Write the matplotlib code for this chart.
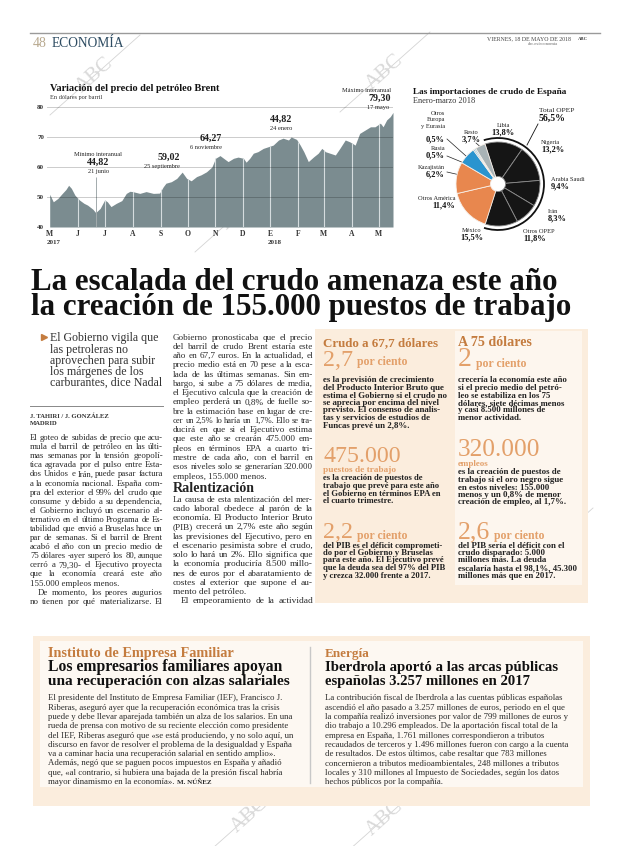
import numpy as np
import matplotlib
matplotlib.use('Agg')
import matplotlib.pyplot as plt
import matplotlib.transforms as mtransforms
from matplotlib.font_manager import FontProperties
from matplotlib.patches import Rectangle, Arc
import pandas as pd

W, H = 620, 846
SERIF = 'Liberation Serif'

# ---- datos del gráfico del Brent (dólares por barril) ----
fechas = ['2017-05-01', '2017-05-05', '2017-05-10', '2017-05-15', '2017-05-19', '2017-05-22',
          '2017-05-25', '2017-05-29', '2017-06-03', '2017-06-08', '2017-06-12', '2017-06-18',
          '2017-06-21', '2017-06-26', '2017-07-01', '2017-07-04', '2017-07-08', '2017-07-14',
          '2017-07-20', '2017-07-25', '2017-07-29', '2017-08-01', '2017-08-09', '2017-08-16',
          '2017-08-24', '2017-08-31', '2017-09-04', '2017-09-07', '2017-09-13', '2017-09-19',
          '2017-09-25', '2017-09-30', '2017-10-05', '2017-10-11', '2017-10-16', '2017-10-22',
          '2017-10-28', '2017-11-01', '2017-11-06', '2017-11-10', '2017-11-15', '2017-11-21',
          '2017-11-26', '2017-12-02', '2017-12-05', '2017-12-09', '2017-12-13', '2017-12-18',
          '2017-12-24', '2017-12-30', '2018-01-04', '2018-01-10', '2018-01-15', '2018-01-21',
          '2018-01-24', '2018-01-30', '2018-02-03', '2018-02-07', '2018-02-12', '2018-02-18',
          '2018-02-23', '2018-02-27', '2018-03-03', '2018-03-08', '2018-03-14', '2018-03-19',
          '2018-03-25', '2018-03-30', '2018-04-05', '2018-04-10', '2018-04-16', '2018-04-22',
          '2018-04-27', '2018-05-03', '2018-05-06', '2018-05-10', '2018-05-14', '2018-05-17']
brent = [50.9, 48.4, 49.5, 51.2, 52.5, 53.9, 52.9, 50.6, 49.0, 47.9, 47.3, 45.9,
         44.8, 46.2, 49.0, 48.4, 46.8, 47.9, 48.8, 51.2, 51.9, 51.8, 51.2, 51.8,
         51.2, 51.3, 53.4, 54.6, 55.1, 56.2, 58.3, 56.2, 55.4, 56.8, 57.4, 58.4,
         60.0, 62.9, 63.8, 62.9, 61.8, 62.9, 63.3, 62.9, 61.6, 62.9, 64.6, 65.1,
         66.2, 66.8, 67.3, 69.0, 69.6, 69.0, 70.0, 69.2, 67.3, 65.1, 61.8, 63.4,
         64.6, 66.2, 65.1, 64.6, 64.0, 66.2, 69.0, 68.4, 67.3, 71.2, 72.3, 73.4,
         73.4, 74.6, 73.4, 75.7, 76.8, 78.2]
meses = ['M', 'J', 'J', 'A', 'S', 'O', 'N', 'D', 'E', 'F', 'M', 'A', 'M']

# ---- datos del gráfico de importaciones ----
paises = ['Libia', 'Nigeria', 'Arabia Saudi', 'Irán', 'Otros OPEP', 'México',
          'Otros América', 'Kazajistán', 'Rusia', 'Otros Europa y Eurasia', 'Resto']
cuotas = [13.8, 13.2, 9.4, 8.3, 11.8, 15.5, 11.4, 6.2, 0.5, 0.5, 3.7]
colores = ['#151515'] * 5 + ['#e8874e', '#e8874e', '#2a94cf', '#45a4d8', '#62b4de', '#a9b3b6']

ORANGE = '#c47c3f'
LIGHT_OR = '#e3a06a'

fig = plt.figure(figsize=(6.2, 8.46), dpi=100)
page = fig.add_axes([0, 0, 1, 1])
page.set_xlim(0, W)
page.set_ylim(H, 0)
page.axis('off')
renderer = fig.canvas.get_renderer()


def fprop(size, weight='normal', family=SERIF):
    return FontProperties(family=family, size=size, weight=weight)


def tw(s, fp):
    return renderer.get_text_width_height_descent(s, fp, ismath=False)[0]


def fit(s, x, y, w, weight='bold', color='#111', ha='left', family=SERIF):
    size = 10 * w / tw(s, fprop(10, weight, family))
    page.text(x, y, s, fontproperties=fprop(size, weight, family), color=color,
              ha=ha, va='baseline')
    return size


def columna(lines, x0, x1, y0, dy, weight='normal', color='#2a2a2a', justify=True, indent=8):
    target = x1 - x0
    fp10 = fprop(10, weight)
    nat = [tw(l.strip('>|'), fp10) + (indent if l.startswith('>') else 0) for l in lines]
    if justify:
        size = 10 * target / np.percentile(nat, 70)
    else:
        size = 10 * target / max(nat)
    for i, l in enumerate(lines):
        y = y0 + i * dy
        x = x0 + (indent if l.startswith('>') else 0)
        txt = l.strip('>|')
        words = txt.split(' ')
        sz = size
        if nat[i] * size / 10 > target:
            sz = size * target / (nat[i] * size / 10)
        fp = fprop(sz, weight)
        if not justify or l.endswith('|') or len(words) == 1:
            page.text(x, y, txt, fontproperties=fp, color=color, va='baseline')
            continue
        ws = [tw(w, fp) for w in words]
        gap = (x1 - x - sum(ws)) / (len(words) - 1)
        for w, wd in zip(words, ws):
            page.text(x, y, w, fontproperties=fp, color=color, va='baseline')
            x += wd + gap
    return size


def px_axes(x0, y0, x1, y1):
    return fig.add_axes([x0 / W, 1 - y1 / H, (x1 - x0) / W, (y1 - y0) / H])


# ---- fondos ----
page.add_patch(Rectangle((315, 329), 273, 274, color='#fbeddd', lw=0))
page.add_patch(Rectangle((455, 331), 127, 254, color='#fdf6ee', lw=0))
page.add_patch(Rectangle((33, 636), 557, 170, color='#fbeddd', lw=0))
page.add_patch(Rectangle((40, 641), 543, 146, color='#fdf8f2', lw=0))
page.plot([310, 310], [647, 783], color='#c8c8c8', lw=1)

# ---- cabecera ----
page.plot([30, 600], [33, 33], color='#9a9a9a', lw=1)
page.text(33, 47, '48', fontproperties=fprop(10), color='#b8a98f', va='baseline')
fit('ECONOMÍA', 52, 47, 73, weight='normal', color='#2f4d63')
fit('VIERNES, 18 DE MAYO DE 2018', 487, 40, 84, weight='normal', color='#444')
fit('ABC', 578, 40, 10, weight='bold', color='#444')
fit('abc.es/economia', 528, 45, 30, weight='normal', color='#666')

# ---- gráfico Brent ----
fit('Variación del precio del petróleo Brent', 50, 91, 170)
fit('En dólares por barril', 50, 99, 52, weight='normal', color='#333')

ax = px_axes(47, 107, 393, 227)
ax.patch.set_alpha(0)
fx = pd.to_datetime(fechas)
area = ax.fill_between(fx, brent, 40, color='#7b8c90', lw=0, zorder=1)
ini = pd.date_range('2017-06-01', '2018-05-01', freq='MS')
vl = ax.vlines(ini, 40, 80, color='#d5dcde', lw=0.8, zorder=2)
vl.set_clip_path(area.get_paths()[0], ax.transData)
ax.vlines(pd.Timestamp('2017-06-21'), 40, 56.5, color='#a3abad', lw=0.7, zorder=2)
for v in [40, 50, 60, 70, 80]:
    ax.axhline(v, color='k', alpha=0.2, lw=0.7, zorder=3)
ax.set_xlim(pd.Timestamp('2017-04-28'), pd.Timestamp('2018-05-17'))
ax.set_ylim(40, 80)
for s in ax.spines.values():
    s.set_visible(False)
ax.set_yticks([40, 50, 60, 70, 80])
ax.set_yticklabels([str(v) for v in [40, 50, 60, 70, 80]], fontproperties=fprop(5, 'bold'), color='#333')
ax.set_xticks(pd.date_range('2017-05-01', '2018-05-01', freq='MS'))
ax.set_xticklabels(meses, fontproperties=fprop(5.5, 'bold'), color='#333')
ax.tick_params(length=0, pad=2)
tr = mtransforms.blended_transform_factory(ax.transData, ax.transAxes)
ax.text(pd.Timestamp('2017-04-28'), -0.14, '2017', transform=tr, fontproperties=fprop(5, 'bold'), color='#333')
ax.text(pd.Timestamp('2017-12-29'), -0.14, '2018', transform=tr, fontproperties=fprop(5, 'bold'), color='#333')

small = fprop(4.6)
num = fprop(7.2, 'bold')
T = page.transData
ax.text(98, 156, 'Mínimo interanual', transform=T, fontproperties=small, ha='center', color='#222')
ax.text(98, 165, '44,82', transform=T, fontproperties=num, ha='center', color='#222')
ax.text(98, 173, '21 junio', transform=T, fontproperties=small, ha='center', color='#222')
ax.text(180, 160, '59,02', transform=T, fontproperties=num, ha='right', color='#222')
ax.text(180, 168, '25 septiembre', transform=T, fontproperties=small, ha='right', color='#222')
ax.text(222, 141, '64,27', transform=T, fontproperties=num, ha='right', color='#222')
ax.text(222, 149, '6 noviembre', transform=T, fontproperties=small, ha='right', color='#222')
ax.text(281, 122, '44,82', transform=T, fontproperties=num, ha='center', color='#222')
ax.text(281, 130, '24 enero', transform=T, fontproperties=small, ha='center', color='#222')
ax.text(391, 92, 'Máximo interanual', transform=T, fontproperties=small, ha='right', color='#222')
ax.text(391, 101, '79,30', transform=T, fontproperties=num, ha='right', color='#222')
ax.text(389, 109, '17 mayo', transform=T, fontproperties=small, ha='right', color='#222')

# ---- gráfico de importaciones ----
fit('Las importaciones de crudo de España', 413, 94, 154)
fit('Enero-marzo 2018', 413, 103, 62, weight='normal', color='#333')

pax = px_axes(448, 134, 548, 234)
pax.patch.set_alpha(0)
wedges, _ = pax.pie(cuotas, colors=colores, startangle=108, counterclock=False, radius=0.84,
                    wedgeprops=dict(width=0.69, linewidth=0.6))
for i, wdg in enumerate(wedges):
    wdg.set_edgecolor('#8c8c8c' if i < 5 else '#f7efe8')
pax.add_patch(Arc((0, 0), 1.84, 1.84, theta1=wedges[4].theta1, theta2=wedges[0].theta2,
                  color='#111', lw=1.3))
pax.set_xlim(-1, 1)
pax.set_ylim(-1, 1)
pax.set_aspect('equal')

lab = fprop(4.6)
pct = fprop(6, 'bold')


def etiqueta(x, y, nombre, valor, ha='center'):
    pax.text(x, y, nombre, transform=T, fontproperties=lab, ha=ha, va='baseline', color='#222')
    pax.text(x, y + 7, valor, transform=T, fontproperties=pct, ha=ha, va='baseline', color='#111')


pax.text(539, 112, 'Total OPEP', transform=T, fontproperties=fprop(5.4), color='#222')
pax.text(539, 121, '56,5%', transform=T, fontproperties=fprop(7, 'bold'), color='#111')
page.plot([527, 538], [145, 124], color='#111', lw=0.6)
etiqueta(503, 127, 'Libia', '13,8%')
etiqueta(541, 144, 'Nigeria', '13,2%', ha='left')
etiqueta(551, 181, 'Arabia Saudi', '9,4%', ha='left')
etiqueta(548, 213, 'Irán', '8,3%', ha='left')
etiqueta(523, 233, 'Otros OPEP', '11,8%', ha='left')
etiqueta(472, 232, 'México', '15,5%')
etiqueta(455, 200, 'Otros América', '11,4%', ha='right')
etiqueta(445, 169, 'Kazajistán', '6,2%', ha='right')
etiqueta(445, 150, 'Rusia', '0,5%', ha='right')
etiqueta(471, 134, 'Resto', '3,7%')
for k, t in enumerate(['Otros', 'Europa', 'y Eurasia']):
    pax.text(445, 115 + k * 6.5, t, transform=T, fontproperties=lab, ha='right', va='baseline', color='#222')
pax.text(445, 141, '0,5%', transform=T, fontproperties=pct, ha='right', va='baseline', color='#111')
page.plot([447, 466], [139, 156], color='#222', lw=0.5)
page.plot([447, 464], [156, 163], color='#222', lw=0.5)
page.plot([447, 460], [172, 175], color='#222', lw=0.5)
page.plot([476, 484], [143, 150], color='#222', lw=0.5)

# ---- titular ----
hs = 10 * 542 / tw('la creación de 155.000 puestos de trabajo', fprop(10, 'bold'))
page.text(31, 290, 'La escalada del crudo amenaza este año', fontproperties=fprop(hs, 'bold'),
          color='#111', va='baseline')
page.text(31, 315.5, 'la creación de 155.000 puestos de trabajo', fontproperties=fprop(hs, 'bold'),
          color='#111', va='baseline')

# ---- subtítulo ----
page.plot([44], [337.5], marker='>', ms=4, color=ORANGE, lw=0)
sub = ['El Gobierno vigila que', 'las petroleras no', 'aprovechen para subir',
       'los márgenes de los', 'carburantes, dice Nadal']
ss = 10 * 112 / tw(sub[-1], fprop(10))
for i, s in enumerate(sub):
    page.text(50, 341.5 + i * 11.1, s, fontproperties=fprop(ss), color='#333', va='baseline')
page.plot([30, 163], [406, 406], color='#888', lw=0.7)
fit('J. TAHIRI / J. GONZÁLEZ', 30, 418, 80, color='#333')
fit('MADRID', 30, 425, 28, color='#333')

col1 = ['El goteo de subidas de precio que acu-', 'mula el barril de petróleo en las últi-',
        'mas semanas por la tensión geopolí-', 'tica agravada por el pulso entre Esta-',
        'dos Unidos e Irán, puede pasar factura', 'a la economía nacional. España com-',
        'pra del exterior el 99% del crudo que', 'consume y debido a su dependencia,',
        'el Gobierno incluyó un escenario al-', 'ternativo en el último Programa de Es-',
        'tabilidad que envió a Bruselas hace un', 'par de semanas. Si el barril de Brent',
        'acabó el año con un precio medio de', '75 dólares -ayer superó los 80, aunque',
        'cerró a 79,30- el Ejecutivo proyecta', 'que la economía creará este año',
        '155.000 empleos menos.|', '>De momento, los peores augurios',
        'no tienen por qué materializarse. El']
columna(col1, 30, 163, 440, 9.1)

col2 = ['Gobierno pronosticaba que el precio', 'del barril de crudo Brent estaría este',
        'año en 67,7 euros. En la actualidad, el', 'precio medio está en 70 pese a la esca-',
        'lada de las últimas semanas. Sin em-', 'bargo, si sube a 75 dólares de media,',
        'el Ejecutivo calcula que la creación de', 'empleo perderá un 0,8% de fuelle so-',
        'bre la estimación base en lugar de cre-', 'cer un 2,5% lo haría un 1,7%. Ello se tra-',
        'ducirá en que si el Ejecutivo estima', 'que este año se crearán 475.000 em-',
        'pleos en términos EPA a cuarto tri-', 'mestre de cada año, con el barril en',
        'esos niveles solo se generarían 320.000', 'empleos, 155.000 menos.|']
columna(col2, 173, 313, 339.5, 9.27)
fit('Ralentización', 173, 492.5, 82, color='#222')
col3 = ['La causa de esta ralentización del mer-', 'cado laboral obedece al parón de la',
        'economía. El Producto Interior Bruto', '(PIB) crecerá un 2,7% este año según',
        'las previsiones del Ejecutivo, pero en', 'el escenario pesimista sobre el crudo,',
        'solo lo hará un 2%. Ello significa que', 'la economía produciría 8.500 millo-',
        'nes de euros por el abaratamiento de', 'costes al exterior que supone el au-',
        'mento del petróleo.|', '>El empeoramiento de la actividad']
columna(col3, 173, 313, 501.5, 9.27)

# ---- despieces ----
fit('Crudo a 67,7 dólares', 323, 346.5, 115, color=ORANGE)
fit('A 75 dólares', 458, 346.5, 74, color=ORANGE)


def cifra(x, y, grande, w, resto, size_resto=8.5):
    fit(grande, x, y, w, weight='normal', color=LIGHT_OR)
    page.text(x + w + 4, y, resto, fontproperties=fprop(size_resto, 'bold'), color=LIGHT_OR, va='baseline')


cifra(323, 365.5, '2,7', 30, 'por ciento')
columna(['es la previsión de crecimiento', 'del Producto Interior Bruto que',
         'estima el Gobierno si el crudo no', 'se aprecia por encima del nivel',
         'previsto. El consenso de analis-', 'tas y servicios de estudios de',
         'Funcas prevé un 2,8%.'], 323, 448, 382.5, 7.5, weight='bold', color='#222', justify=False)
fit('475.000', 323, 461.5, 77, weight='normal', color=LIGHT_OR)
fit('puestos de trabajo', 323, 472.5, 73, weight='bold', color=LIGHT_OR)
columna(['es la creación de puestos de', 'trabajo que prevé para este año',
         'el Gobierno en términos EPA en', 'el cuarto trimestre.'],
        323, 442, 480.5, 7.5, weight='bold', color='#222', justify=False)
cifra(323, 538.5, '2,2', 30, 'por ciento')
columna(['del PIB es el déficit comprometi-', 'do por el Gobierno y Bruselas',
         'para este año. El Ejecutivo prevé', 'que la deuda sea del 97% del PIB',
         'y crezca 32.000 frente a 2017.'], 323, 446, 547.5, 7.5, weight='bold', color='#222', justify=False)

cifra(458, 366.5, '2', 14, 'por ciento')
columna(['crecería la economía este año', 'si el precio medio del petró-',
         'leo se estabiliza en los 75', 'dólares, siete décimas menos',
         'y casi 8.500 millones de', 'menor actividad.'], 458, 567, 382.5, 7.5,
        weight='bold', color='#222', justify=False)
fit('320.000', 458, 456, 82, weight='normal', color=LIGHT_OR)
fit('empleos', 458, 466, 31, weight='bold', color=LIGHT_OR)
columna(['es la creación de puestos de', 'trabajo si el oro negro sigue',
         'en estos niveles: 155.000', 'menos y un 0,8% de menor',
         'creación de empleo, al 1,7%.'], 458, 566, 474.5, 7.5, weight='bold', color='#222', justify=False)
cifra(458, 538.5, '2,6', 32, 'por ciento')
columna(['del PIB sería el déficit con el', 'crudo disparado: 5.000',
         'millones más. La deuda', 'escalaría hasta el 98,1%, 45.300',
         'millones más que en 2017.'], 458, 577, 547.5, 7.5, weight='bold', color='#222', justify=False)

# ---- breves ----
fit('Instituto de Empresa Familiar', 48, 657, 185, color=ORANGE)
fit('Los empresarios familiares apoyan', 48, 671, 235, color='#111')
fit('una recuperación con alzas salariales', 48, 685, 243, color='#111')
breve1 = ['El presidente del Instituto de Empresa Familiar (IEF), Francisco J.',
          'Riberas, aseguró ayer que la recuperación económica tras la crisis',
          'puede y debe llevar aparejada también un alza de los salarios. En una',
          'rueda de prensa con motivo de su reciente elección como presidente',
          'del IEF, Riberas aseguró que «se está produciendo, y no solo aquí, un',
          'discurso en favor de resolver el problema de la desigualdad y España',
          'va a caminar hacia una recuperación salarial en sentido amplio».',
          'Además, negó que se paguen pocos impuestos en España y añadió',
          'que, «al contrario, si hubiera una bajada de la presión fiscal habría',
          'mayor dinamismo en la economía».']
bs = columna(breve1, 48, 290, 700.5, 9.27, justify=False)
xf = 48 + tw(breve1[-1] + ' ', fprop(bs))
page.text(xf, 700.5 + 9 * 9.27, 'M. NÚÑEZ', fontproperties=fprop(bs * 0.8, 'bold'), color='#2a2a2a', va='baseline')

fit('Energía', 325, 657, 45, color=ORANGE)
fit('Iberdrola aportó a las arcas públicas', 325, 671, 233, color='#111')
fit('españolas 3.257 millones en 2017', 325, 685, 205, color='#111')
breve2 = ['La contribución fiscal de Iberdrola a las cuentas públicas españolas',
          'ascendió el año pasado a 3.257 millones de euros, periodo en el que',
          'la compañía realizó inversiones por valor de 799 millones de euros y',
          'dio trabajo a 10.296 empleados. De la aportación fiscal total de la',
          'empresa en España, 1.761 millones correspondieron a tributos',
          'recaudados de terceros y 1.496 millones fueron con cargo a la cuenta',
          'de resultados. De estos últimos, cabe resaltar que 783 millones',
          'concernieron a tributos medioambientales, 248 millones a tributos',
          'locales y 310 millones al Impuesto de Sociedades, según los datos',
          'hechos públicos por la compañía.']
columna(breve2, 325, 568, 700.5, 9.27, justify=False)

# ---- marcas de agua ----
for cx, cy in [(95, 75), (385, 72), (240, 212), (548, 548), (250, 815), (385, 818)]:
    page.plot([cx - 45, cx + 45], [cy + 40, cy - 40], color='#d4d4d4', lw=0.6, zorder=0.5)
    page.text(cx, cy, 'ABC', fontproperties=fprop(15), color='#d9d9d9', rotation=42,
              ha='center', va='center', zorder=0.5)

fig.savefig('out.png', dpi=100)
